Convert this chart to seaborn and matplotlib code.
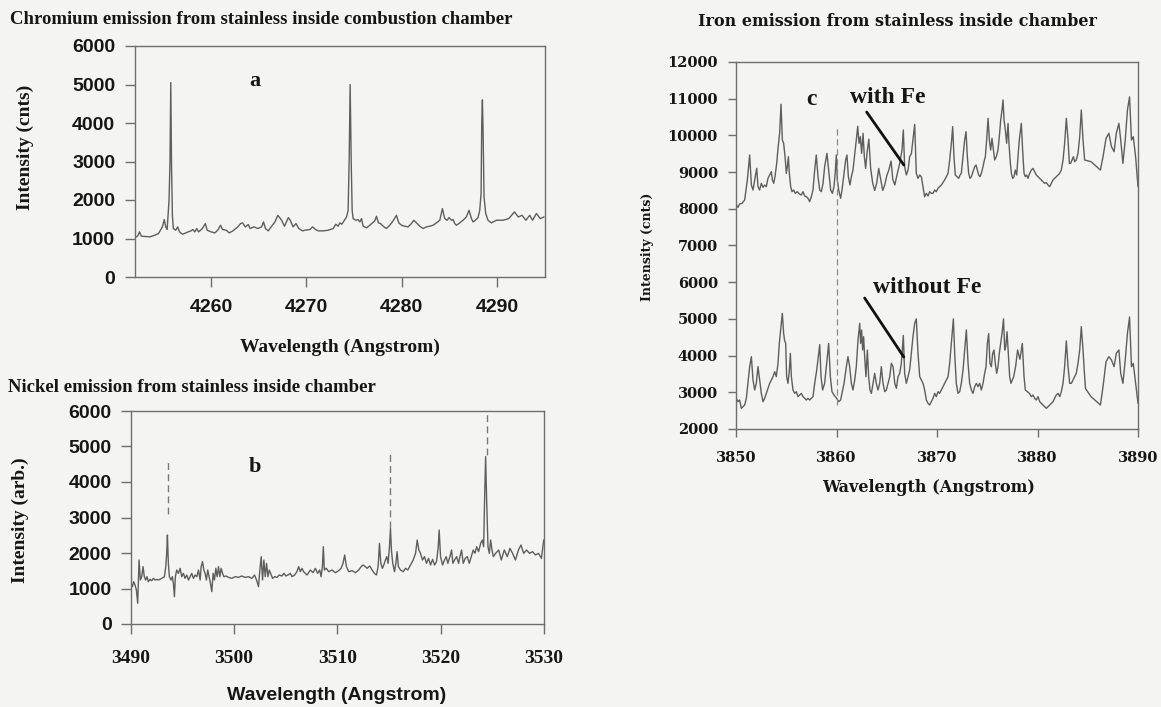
import matplotlib
matplotlib.use("Agg")
import matplotlib.pyplot as plt
import seaborn as sns
import pandas as pd

# ---------------- data ----------------
# (a) chromium spectrum
cr_wavelength = [
    4252.0, 4252.3, 4252.5, 4252.7, 4253.6, 4254.1, 4254.5, 4254.7, 4254.9, 4255.1,
    4255.25, 4255.4, 4255.6, 4255.7, 4255.78, 4255.86, 4255.95, 4256.05, 4256.3, 4256.5,
    4256.7, 4257.0, 4257.2, 4257.6, 4257.9, 4258.1, 4258.3, 4258.5, 4258.7, 4259.1,
    4259.4, 4259.6, 4260.0, 4260.4, 4260.7, 4261.0, 4261.2, 4261.6, 4261.9, 4262.3,
    4262.8, 4263.1, 4263.3, 4263.6, 4263.9, 4264.1, 4264.5, 4264.9, 4265.3, 4265.5,
    4265.7, 4266.0, 4266.3, 4266.7, 4267.0, 4267.4, 4267.7, 4268.1, 4268.3, 4268.6,
    4268.9, 4269.2, 4269.6, 4269.83, 4270.36, 4270.64, 4270.95, 4271.23, 4271.75, 4272.28,
    4272.8, 4273.08, 4273.32, 4273.5, 4273.71, 4274.02, 4274.2, 4274.37, 4274.48, 4274.58,
    4274.69, 4274.79, 4274.89, 4275.17, 4275.42, 4275.59, 4275.77, 4275.94, 4276.29, 4276.64,
    4276.92, 4277.16, 4277.34, 4277.55, 4277.76, 4278.04, 4278.38, 4278.73, 4279.08, 4279.43,
    4279.68, 4279.96, 4280.3, 4280.65, 4281.0, 4281.25, 4281.6, 4281.88, 4282.22, 4282.57,
    4282.92, 4283.27, 4283.62, 4283.97, 4284.25, 4284.49, 4284.74, 4284.95, 4285.19, 4285.37,
    4285.54, 4285.71, 4286.06, 4286.41, 4286.76, 4287.04, 4287.29, 4287.46, 4287.7, 4287.98,
    4288.16, 4288.3, 4288.37, 4288.44, 4288.51, 4288.61, 4288.79, 4289.03, 4289.38, 4289.9,
    4290.6, 4291.2, 4291.8, 4292.2, 4292.6, 4293.0, 4293.4, 4293.7, 4294.1, 4294.5,
    4294.9,
]
cr_intensity = [
    1026, 1060, 1172, 1060, 1043, 1086, 1129, 1215, 1302, 1492,
    1302, 1233, 2000, 3000, 5050, 2900, 1600, 1259, 1215, 1302,
    1172, 1112, 1129, 1172, 1198, 1233, 1172, 1259, 1172, 1259,
    1388, 1215, 1172, 1146, 1215, 1345, 1233, 1215, 1146, 1198,
    1302, 1388, 1405, 1302, 1362, 1259, 1302, 1259, 1302, 1431,
    1259, 1198, 1302, 1431, 1603, 1474, 1319, 1543, 1474, 1302,
    1388, 1259, 1198, 1215, 1233, 1302, 1233, 1198, 1198, 1215,
    1259, 1371, 1319, 1405, 1371, 1491, 1560, 1733, 3100, 5000,
    3000, 1733, 1517, 1474, 1491, 1431, 1517, 1319, 1276, 1345,
    1405, 1457, 1577, 1405, 1388, 1319, 1259, 1345, 1457, 1603,
    1405, 1345, 1319, 1302, 1388, 1474, 1388, 1319, 1259, 1302,
    1319, 1345, 1405, 1474, 1776, 1517, 1474, 1543, 1474, 1491,
    1388, 1345, 1405, 1474, 1560, 1733, 1517, 1431, 1474, 1543,
    1733, 2164, 4000, 4600, 3800, 2078, 1647, 1474, 1405, 1474,
    1474, 1517, 1690, 1560, 1603, 1474, 1603, 1474, 1650, 1517,
    1560,
]

# (b) nickel spectrum
ni_wavelength = [
    3490.0, 3490.13, 3490.26, 3490.39, 3490.52, 3490.65, 3490.78, 3490.91, 3491.04, 3491.17,
    3491.29, 3491.42, 3491.55, 3491.68, 3491.84, 3492.0, 3492.17, 3492.33, 3492.49, 3492.65,
    3492.98, 3493.24, 3493.37, 3493.46, 3493.53, 3493.62, 3493.72, 3493.88, 3494.01, 3494.11,
    3494.21, 3494.3, 3494.43, 3494.6, 3494.76, 3494.92, 3495.08, 3495.24, 3495.4, 3495.57,
    3495.73, 3495.89, 3496.05, 3496.21, 3496.38, 3496.54, 3496.7, 3496.8, 3496.93, 3497.06,
    3497.18, 3497.31, 3497.44, 3497.57, 3497.7, 3497.83, 3497.96, 3498.09, 3498.22, 3498.35,
    3498.48, 3498.61, 3498.74, 3498.87, 3499.0, 3499.19, 3499.45, 3499.77, 3500.1, 3500.42,
    3500.74, 3501.07, 3501.39, 3501.72, 3501.97, 3502.17, 3502.36, 3502.49, 3502.62, 3502.75,
    3502.88, 3503.01, 3503.14, 3503.27, 3503.4, 3503.53, 3503.72, 3503.92, 3504.14, 3504.37,
    3504.63, 3504.82, 3505.02, 3505.21, 3505.44, 3505.6, 3505.86, 3506.08, 3506.25, 3506.41,
    3506.57, 3506.73, 3507.06, 3507.38, 3507.64, 3507.87, 3508.09, 3508.29, 3508.42, 3508.55,
    3508.64, 3508.74, 3508.93, 3509.16, 3509.48, 3509.81, 3510.13, 3510.36, 3510.55, 3510.71,
    3510.88, 3511.1, 3511.43, 3511.75, 3512.07, 3512.3, 3512.49, 3512.72, 3512.88, 3513.14,
    3513.37, 3513.59, 3513.79, 3513.95, 3514.08, 3514.21, 3514.37, 3514.5, 3514.66, 3514.79,
    3514.92, 3515.05, 3515.15, 3515.24, 3515.37, 3515.54, 3515.67, 3515.79, 3515.92, 3516.12,
    3516.38, 3516.6, 3516.83, 3517.09, 3517.35, 3517.58, 3517.74, 3517.9, 3518.06, 3518.25,
    3518.45, 3518.64, 3518.84, 3519.03, 3519.23, 3519.42, 3519.61, 3519.78, 3519.87, 3520.0,
    3520.2, 3520.39, 3520.55, 3520.71, 3520.91, 3521.07, 3521.2, 3521.36, 3521.56, 3521.75,
    3521.88, 3522.04, 3522.2, 3522.4, 3522.59, 3522.79, 3522.98, 3523.17, 3523.34, 3523.5,
    3523.69, 3523.89, 3524.05, 3524.18, 3524.27, 3524.37, 3524.47, 3524.6, 3524.73, 3524.86,
    3524.99, 3525.12, 3525.34, 3525.64, 3525.89, 3526.18, 3526.47, 3526.73, 3526.98, 3527.26,
    3527.55, 3527.8, 3528.06, 3528.34, 3528.63, 3528.92, 3529.2, 3529.49, 3529.78, 3530.0,
]
ni_intensity = [
    1145, 1052, 1192, 1099, 958, 582, 1803, 1239, 1333, 1615,
    1333, 1239, 1333, 1192, 1258, 1221, 1286, 1239, 1258, 1239,
    1286, 1333, 1615, 1991, 2507, 1709, 1333, 1239, 1333, 1145,
    770, 1333, 1521, 1427, 1568, 1333, 1427, 1286, 1380, 1239,
    1333, 1427, 1286, 1380, 1333, 1521, 1239, 1615, 1756, 1521,
    1427, 1239, 1521, 1333, 1145, 911, 1427, 1239, 1568, 1333,
    1615, 1333, 1568, 1427, 1333, 1352, 1314, 1286, 1333, 1314,
    1352, 1314, 1333, 1286, 1380, 1239, 1052, 1521, 1897, 1239,
    1803, 1333, 1709, 1333, 1521, 1427, 1286, 1333, 1314, 1380,
    1352, 1427, 1352, 1380, 1427, 1333, 1380, 1474, 1615, 1474,
    1568, 1474, 1380, 1521, 1446, 1568, 1427, 1521, 1333, 1615,
    2178, 1521, 1568, 1474, 1521, 1446, 1503, 1568, 1709, 1944,
    1615, 1474, 1503, 1446, 1521, 1615, 1662, 1615, 1568, 1634,
    1521, 1427, 1380, 1615, 2272, 1709, 1568, 1662, 1803, 1897,
    1709, 2178, 2695, 2084, 1709, 1474, 1709, 2037, 1615, 1521,
    1474, 1568, 1521, 1662, 1803, 1991, 2366, 2084, 1991, 1803,
    1897, 1709, 1850, 1662, 1822, 1662, 1756, 2178, 2648, 1897,
    1662, 1803, 1897, 1709, 1897, 2084, 1709, 1803, 1897, 1709,
    1897, 2084, 1709, 1850, 1897, 1709, 1897, 2084, 1991, 2178,
    2037, 2272, 2366, 2178, 3493, 4714, 3493, 2178, 1991, 2366,
    2084, 1897, 1991, 2085, 1803, 2085, 1897, 2132, 1991, 1803,
    2085, 2226, 1991, 2085, 1991, 2038, 1944, 1991, 1850, 2367,
]
# dashed marker lines of panel b: (wavelength, lower end, upper end)
ni_marker_wavelength = [3493.6, 3515.1, 3524.5]
ni_marker_low = [3100, 2700, 4750]
ni_marker_high = [4600, 4900, 6000]

# (c) iron spectra, with and without Fe
fe_wavelength_with = [
    3850.03, 3850.2, 3850.36, 3850.6, 3850.86, 3851.13, 3851.36, 3851.53, 3851.69, 3851.86,
    3852.06, 3852.19, 3852.35, 3852.52, 3852.69, 3852.85, 3853.02, 3853.18, 3853.35, 3853.52,
    3853.62, 3853.75, 3853.88, 3854.05, 3854.18, 3854.34, 3854.48, 3854.61, 3854.74, 3854.88,
    3855.01, 3855.11, 3855.21, 3855.31, 3855.44, 3855.57, 3855.74, 3855.9, 3856.1, 3856.3,
    3856.5, 3856.67, 3856.83, 3857.0, 3857.16, 3857.33, 3857.5, 3857.66, 3857.83, 3857.99,
    3858.16, 3858.33, 3858.49, 3858.66, 3858.82, 3859.05, 3859.22, 3859.42, 3859.59, 3859.75,
    3859.88, 3859.98, 3860.08, 3860.22, 3860.41, 3860.55, 3860.75, 3860.91, 3861.04, 3861.18,
    3861.34, 3861.48, 3861.64, 3861.81, 3861.97, 3862.11, 3862.24, 3862.37, 3862.5, 3862.64,
    3862.77, 3862.9, 3863.05, 3863.22, 3863.4, 3863.6, 3863.8, 3864.0, 3864.2, 3864.4,
    3864.6, 3864.8, 3865.0, 3865.2, 3865.43, 3865.6, 3865.8, 3866.0, 3866.29, 3866.52,
    3866.65, 3866.78, 3866.95, 3867.12, 3867.28, 3867.45, 3867.61, 3867.78, 3867.94, 3868.11,
    3868.28, 3868.44, 3868.61, 3868.77, 3868.94, 3869.11, 3869.27, 3869.44, 3869.6, 3869.77,
    3869.93, 3870.1, 3870.43, 3870.76, 3870.93, 3871.1, 3871.26, 3871.43, 3871.56, 3871.69,
    3871.82, 3871.99, 3872.16, 3872.29, 3872.42, 3872.59, 3872.75, 3872.89, 3873.02, 3873.15,
    3873.28, 3873.42, 3873.58, 3873.75, 3873.88, 3874.01, 3874.15, 3874.28, 3874.41, 3874.54,
    3874.68, 3874.81, 3874.94, 3875.08, 3875.21, 3875.34, 3875.47, 3875.61, 3875.74, 3875.9,
    3876.07, 3876.2, 3876.34, 3876.47, 3876.57, 3876.67, 3876.8, 3876.93, 3877.07, 3877.16,
    3877.3, 3877.4, 3877.53, 3877.66, 3877.79, 3877.93, 3878.06, 3878.19, 3878.39, 3878.52,
    3878.66, 3878.79, 3878.92, 3879.06, 3879.22, 3879.39, 3879.55, 3879.72, 3879.88, 3880.05,
    3880.22, 3880.38, 3880.55, 3880.71, 3880.88, 3881.05, 3881.21, 3881.38, 3881.54, 3881.71,
    3881.87, 3882.04, 3882.21, 3882.37, 3882.54, 3882.7, 3882.87, 3883.04, 3883.17, 3883.3,
    3883.43, 3883.57, 3883.7, 3883.86, 3884.03, 3884.2, 3884.36, 3884.53, 3884.69, 3885.33,
    3885.89, 3886.26, 3886.52, 3886.82, 3887.1, 3887.36, 3887.62, 3887.84, 3888.1, 3888.28,
    3888.5, 3888.73, 3888.95, 3889.16, 3889.35, 3889.53, 3889.76, 3890.0,
]
fe_intensity_with = [
    8103, 8040, 8131, 8149, 8240, 8785, 9466, 8648, 8512, 8785,
    9103, 8603, 8512, 8694, 8585, 8648, 8603, 8830, 8921, 9012,
    8785, 8694, 8875, 9239, 9647, 10056, 10850, 9875, 9784, 9420,
    8966, 9148, 9420, 8966, 8603, 8467, 8512, 8421, 8467, 8403,
    8376, 8467, 8349, 8331, 8285, 8194, 8331, 8512, 9057, 9466,
    8875, 8512, 8467, 8694, 9148, 9511, 9057, 8512, 8421, 8603,
    9012, 9466, 8785, 8512, 8285, 8512, 8966, 9330, 9466, 8875,
    8648, 8875, 9057, 9466, 9875, 10250, 9784, 9965, 9511, 10056,
    9420, 9100, 9550, 9900, 9100, 8700, 8500, 8700, 9100, 8800,
    8500, 8650, 8900, 9050, 9300, 8800, 8650, 8900, 9239, 9602,
    10147, 9148, 8921, 9057, 9420, 9500, 9900, 10300, 8966, 8830,
    8921, 8875, 8603, 8331, 8421, 8349, 8467, 8421, 8421, 8512,
    8467, 8558, 8648, 8785, 8875, 8966, 9330, 9784, 10238, 9420,
    8921, 8875, 8830, 8921, 8966, 9420, 9875, 10102, 9420, 8966,
    8830, 8875, 9012, 9148, 9193, 9057, 8921, 8875, 8966, 9103,
    9284, 9420, 9875, 10465, 9875, 9602, 9920, 9602, 9330, 9420,
    9602, 9965, 10420, 10692, 10965, 10420, 10147, 9784, 10329, 9784,
    9239, 8966, 8830, 8875, 9057, 8921, 9420, 9875, 10329, 9602,
    8966, 8875, 8921, 8830, 8966, 9057, 9103, 9012, 8921, 8875,
    8830, 8785, 8739, 8694, 8712, 8648, 8603, 8694, 8785, 8830,
    8875, 8921, 8966, 9057, 9330, 9784, 10465, 9875, 9239, 9239,
    9330, 9420, 9284, 9330, 9511, 9965, 10692, 9875, 9330, 9283,
    9147, 9056, 9420, 9920, 10057, 9693, 9556, 10057, 10329, 9874,
    9238, 9874, 10693, 11050, 9874, 9965, 9420, 8602,
]
fe_wavelength_without = [
    3850.03, 3850.2, 3850.36, 3850.53, 3850.7, 3850.86, 3851.03, 3851.19, 3851.36, 3851.53,
    3851.69, 3851.86, 3852.02, 3852.19, 3852.35, 3852.52, 3852.69, 3852.85, 3853.02, 3853.18,
    3853.35, 3853.52, 3853.68, 3853.85, 3854.01, 3854.18, 3854.31, 3854.44, 3854.61, 3854.74,
    3854.84, 3854.94, 3855.04, 3855.17, 3855.31, 3855.41, 3855.51, 3855.67, 3855.84, 3856.0,
    3856.17, 3856.33, 3856.5, 3856.67, 3856.83, 3857.0, 3857.16, 3857.33, 3857.5, 3857.66,
    3857.83, 3858.03, 3858.33, 3858.46, 3858.62, 3858.82, 3859.02, 3859.22, 3859.39, 3859.55,
    3859.75, 3859.88, 3860.02, 3860.22, 3860.41, 3860.55, 3860.75, 3860.98, 3861.14, 3861.31,
    3861.48, 3861.64, 3861.81, 3861.97, 3862.14, 3862.31, 3862.4, 3862.5, 3862.6, 3862.7,
    3862.8, 3862.93, 3863.07, 3863.2, 3863.33, 3863.47, 3863.63, 3863.8, 3863.96, 3864.13,
    3864.3, 3864.46, 3864.63, 3864.8, 3864.96, 3865.13, 3865.3, 3865.46, 3865.63, 3865.8,
    3865.96, 3866.12, 3866.29, 3866.45, 3866.65, 3866.78, 3866.95, 3867.12, 3867.28, 3867.45,
    3867.61, 3867.78, 3867.94, 3868.11, 3868.28, 3868.44, 3868.61, 3868.77, 3868.94, 3869.11,
    3869.27, 3869.44, 3869.6, 3869.77, 3869.93, 3870.1, 3870.26, 3870.43, 3870.6, 3870.76,
    3870.93, 3871.1, 3871.26, 3871.43, 3871.63, 3871.76, 3871.92, 3872.09, 3872.26, 3872.42,
    3872.59, 3872.75, 3872.92, 3873.09, 3873.25, 3873.42, 3873.58, 3873.75, 3873.92, 3874.08,
    3874.25, 3874.41, 3874.58, 3874.74, 3874.88, 3875.01, 3875.14, 3875.27, 3875.41, 3875.54,
    3875.67, 3875.8, 3875.94, 3876.07, 3876.2, 3876.34, 3876.47, 3876.62, 3876.74, 3876.84,
    3876.97, 3877.1, 3877.23, 3877.36, 3877.5, 3877.63, 3877.82, 3878.02, 3878.25, 3878.49,
    3878.66, 3878.79, 3878.99, 3879.19, 3879.39, 3879.55, 3879.72, 3879.88, 3880.05, 3880.22,
    3880.38, 3880.55, 3880.71, 3880.88, 3881.05, 3881.21, 3881.38, 3881.54, 3881.71, 3881.87,
    3882.04, 3882.21, 3882.37, 3882.54, 3882.7, 3882.87, 3883.04, 3883.2, 3883.37, 3883.53,
    3883.7, 3883.86, 3884.03, 3884.2, 3884.36, 3884.53, 3884.69, 3884.78, 3885.33, 3885.89,
    3886.26, 3886.52, 3886.82, 3887.1, 3887.36, 3887.62, 3887.84, 3888.1, 3888.28, 3888.5,
    3888.73, 3888.95, 3889.16, 3889.35, 3889.53, 3889.76, 3890.0,
]
fe_intensity_without = [
    2835, 2744, 2790, 2563, 2608, 2654, 2835, 3244, 3698, 3971,
    3335, 3062, 3244, 3698, 3335, 2971, 2744, 2835, 2971, 3108,
    3244, 3335, 3426, 3562, 3426, 3789, 4334, 4697, 5151, 4606,
    4400, 4350, 3426, 3244, 3600, 4061, 3426, 3062, 2971, 3017,
    2881, 2926, 2971, 2881, 2835, 2790, 2835, 2790, 2835, 2881,
    3244, 3600, 4300, 3426, 3062, 3244, 3789, 4330, 3426, 3017,
    2926, 2881, 2835, 2744, 2790, 2971, 3244, 3698, 3971, 3698,
    3244, 3062, 3335, 3698, 4425, 4879, 4334, 4697, 4152, 4515,
    3971, 3426, 4152, 3426, 3062, 2971, 3244, 3517, 3244, 3062,
    3244, 3698, 3244, 3017, 3062, 3244, 3426, 3789, 3698, 3244,
    3108, 3426, 3517, 3789, 4550, 3517, 3244, 3426, 3607, 4061,
    4516, 4879, 5000, 4061, 3426, 3335, 3244, 3062, 2790, 2699,
    2654, 2744, 2835, 2971, 2881, 3017, 2971, 3062, 3153, 3244,
    3335, 3426, 3789, 4334, 5000, 4061, 3244, 2971, 3017, 3244,
    3607, 4152, 4700, 3789, 3244, 3062, 2971, 3153, 3244, 3153,
    3244, 3062, 3244, 3517, 3698, 4334, 4600, 3789, 3698, 4061,
    4152, 3789, 3517, 3698, 4061, 4334, 4606, 5000, 4152, 4243,
    4650, 4061, 3426, 3244, 3335, 3426, 3698, 4152, 3900, 4330,
    3426, 3062, 3017, 2971, 2881, 2926, 2835, 2790, 2881, 2744,
    2699, 2654, 2608, 2563, 2608, 2654, 2699, 2744, 2835, 2926,
    2971, 2881, 3017, 3244, 3698, 4400, 3698, 3244, 3244, 3335,
    3426, 3517, 3789, 4152, 4788, 4152, 3426, 3100, 2882, 2745,
    2654, 3154, 3835, 3971, 3880, 3698, 4062, 4153, 3516, 3244,
    3880, 4607, 5050, 3698, 3789, 3244, 2700,
]
fe_marker_wavelength = 3860.0
fe_marker_low, fe_marker_high = 2650, 10250

# ---------------- style ----------------
sns.set_theme(style="ticks")
PAPER = "#f4f4f2"
TRACE = "#5e5e5e"
INK = "#161616"
SPINE = "#6e6e6e"
plt.rcParams.update({
    "figure.facecolor": PAPER,
    "axes.facecolor": PAPER,
    "savefig.facecolor": PAPER,
    "axes.edgecolor": SPINE,
    "axes.linewidth": 1.0,
    "xtick.color": SPINE,
    "ytick.color": SPINE,
    "xtick.labelcolor": INK,
    "ytick.labelcolor": INK,
})
SERIF = ["Liberation Serif", "DejaVu Serif"]
SANS = ["Liberation Sans", "DejaVu Sans"]
WIDE_SERIF = ["DejaVu Serif"]

W, H = 1161, 707
fig = plt.figure(figsize=(W / 100, H / 100), dpi=100)


def box(x0, y0, x1, y1):
    """Axes rectangle given pixel edges measured from the top-left corner."""
    return [x0 / W, 1 - y1 / H, (x1 - x0) / W, (y1 - y0) / H]


def ftext(x, y, s, **kw):
    fig.text(x / W, 1 - y / H, s, color=INK, fontweight="bold", **kw)


def style_ticks(ax, xfam, yfam, xsize, ysize, xpad, ypad, length):
    ax.tick_params(axis="both", direction="out", length=length, width=1.0)
    ax.tick_params(axis="x", pad=xpad)
    ax.tick_params(axis="y", pad=ypad)
    for lab in ax.get_xticklabels():
        lab.set_fontfamily(xfam)
        lab.set_fontsize(xsize)
        lab.set_fontweight("bold")
    for lab in ax.get_yticklabels():
        lab.set_fontfamily(yfam)
        lab.set_fontsize(ysize)
        lab.set_fontweight("bold")


# ---------------- panel a ----------------
ax_a = fig.add_axes(box(134.7, 46, 545, 277))
df_a = pd.DataFrame({"wavelength": cr_wavelength, "intensity": cr_intensity})
sns.lineplot(data=df_a, x="wavelength", y="intensity", ax=ax_a, color=TRACE,
             lw=1.0, estimator=None, sort=False)
ax_a.set_xlim(4252.0, 4295.0)
ax_a.set_ylim(0, 6000)
ax_a.set_xticks([4260, 4270, 4280, 4290])
ax_a.set_yticks(range(0, 6001, 1000))
ax_a.set_xlabel("")
ax_a.set_ylabel("")
style_ticks(ax_a, SANS, SANS, 14, 14, 9, 7, 7)
ax_a.text(4264.6, 5094, "a", ha="center", va="center", fontsize=16,
          fontweight="bold", family=SERIF, color=INK)

# ---------------- panel b ----------------
ax_b = fig.add_axes(box(131, 411, 543.7, 624))
df_b = pd.DataFrame({"wavelength": ni_wavelength, "intensity": ni_intensity})
sns.lineplot(data=df_b, x="wavelength", y="intensity", ax=ax_b, color=TRACE,
             lw=1.0, estimator=None, sort=False)
for wl, lo, hi in zip(ni_marker_wavelength, ni_marker_low, ni_marker_high):
    ax_b.plot([wl, wl], [lo, hi], color="#7a7a7a", lw=1.0, dashes=(5, 3))
ax_b.set_xlim(3490, 3530)
ax_b.set_ylim(0, 6000)
ax_b.set_xticks(range(3490, 3531, 10))
ax_b.set_yticks(range(0, 6001, 1000))
ax_b.set_xlabel("")
ax_b.set_ylabel("")
style_ticks(ax_b, SERIF, SANS, 14, 14, 12, 7, 7)
ax_b.text(3502.0, 4423, "b", ha="center", va="center", fontsize=16,
          fontweight="bold", family=SERIF, color=INK)

# ---------------- panel c ----------------
ax_c = fig.add_axes(box(736, 62, 1138, 429))
df_c = pd.concat([
    pd.DataFrame({"wavelength": fe_wavelength_with, "intensity": fe_intensity_with,
                  "sample": "with Fe"}),
    pd.DataFrame({"wavelength": fe_wavelength_without, "intensity": fe_intensity_without,
                  "sample": "without Fe"}),
])
sns.lineplot(data=df_c, x="wavelength", y="intensity", units="sample", ax=ax_c,
             color=TRACE, lw=1.0, estimator=None, sort=False, legend=False)
ax_c.plot([fe_marker_wavelength] * 2, [fe_marker_low, fe_marker_high],
          color="#8a8a8a", lw=0.9, dashes=(5, 3))
ax_c.set_xlim(3850, 3890)
ax_c.set_ylim(2000, 12000)
ax_c.set_xticks(range(3850, 3891, 10))
ax_c.set_yticks(range(2000, 12001, 1000))
ax_c.set_xlabel("")
ax_c.set_ylabel("")
style_ticks(ax_c, WIDE_SERIF, WIDE_SERIF, 10.5, 10.5, 10, 7, 6)
ax_c.text(3857.5, 10965, "c", ha="center", va="center", fontsize=17,
          fontweight="bold", family=SERIF, color=INK)
ax_c.text(3865.1, 11046, "with Fe", ha="center", va="center", fontsize=17,
          fontweight="bold", family=SERIF, color=INK)
ax_c.text(3869.0, 5869, "without Fe", ha="center", va="center", fontsize=17,
          fontweight="bold", family=SERIF, color=INK)
ax_c.plot([3863.0, 3866.7], [10637, 9193], color="#111111", lw=2.0)
ax_c.plot([3862.8, 3866.7], [5569, 3961], color="#111111", lw=2.0)

# ---------------- titles and axis labels ----------------
ftext(10, 20, "Chromium emission from stainless inside combustion chamber",
      ha="left", va="center", fontsize=13.5, family=SERIF)
ftext(8, 388, "Nickel emission from stainless inside chamber",
      ha="left", va="center", fontsize=13.5, family=SERIF)
ftext(897, 22, "Iron emission from stainless inside chamber",
      ha="center", va="center", fontsize=11.5, family=WIDE_SERIF)

ftext(340, 347, "Wavelength (Angstrom)", ha="center", va="center",
      fontsize=14, family=SERIF)
ftext(337, 695, "Wavelength (Angstrom)", ha="center", va="center",
      fontsize=14, family=SANS)
ftext(929, 488, "Wavelength (Angstrom)", ha="center", va="center",
      fontsize=11.5, family=WIDE_SERIF)

ftext(25, 147, "Intensity (cnts)", ha="center", va="center", rotation=90,
      fontsize=14, family=SERIF)
ftext(20, 520, "Intensity (arb.)", ha="center", va="center", rotation=90,
      fontsize=14, family=SERIF)
ftext(648, 247, "Intensity (cnts)", ha="center", va="center", rotation=90,
      fontsize=9, family=WIDE_SERIF)

fig.savefig("out.png", dpi=100)
